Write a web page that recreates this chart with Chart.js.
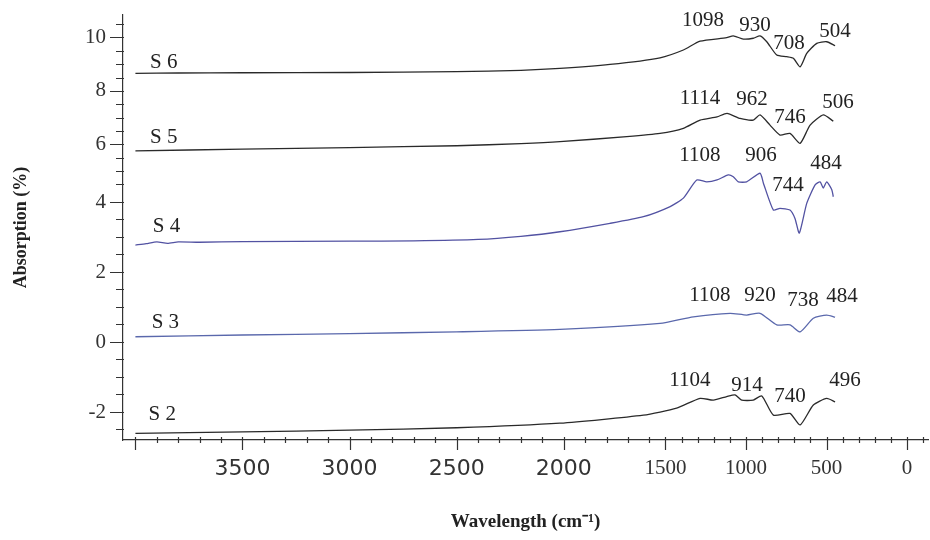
<!DOCTYPE html>
<html>
<head>
<meta charset="utf-8">
<script src="https://cdn.jsdelivr.net/npm/chart.js@4/dist/chart.umd.min.js"></script>
<style>
  html, body { margin: 0; padding: 0; background: #fff; }
  #wrap { width: 930px; height: 540px; }
</style>
</head>
<body>
<div id="wrap"><canvas id="c"></canvas></div>
<script>
// Espectros FTIR (número de onda cm-1 / absorción)
const s6Wn  = [4000, 3800, 3500, 3000, 2500, 2200, 2018, 1784, 1534, 1389, 1285, 1120, 1079, 1017, 955, 913, 871, 809, 747, 706, 664, 623, 561, 499, 447];
const s6Abs = [8.66, 8.67, 8.68, 8.69, 8.72, 8.77, 8.84, 8.99, 9.24, 9.53, 9.86, 9.99, 10.06, 9.94, 9.97, 10.06, 9.84, 9.34, 9.28, 9.22, 8.90, 9.40, 9.78, 9.84, 9.69];

const s5Wn  = [4000, 3500, 3000, 2500, 2200, 2018, 1706, 1534, 1389, 1285, 1180, 1118, 1037, 955, 913, 851, 789, 727, 664, 602, 520, 458];
const s5Abs = [5.76, 5.82, 5.88, 5.95, 6.03, 6.10, 6.29, 6.41, 6.60, 6.91, 7.03, 7.16, 6.97, 6.91, 7.10, 6.72, 6.35, 6.41, 6.04, 6.72, 7.10, 6.87];

const s4Wn  = [4000, 3950, 3900, 3850, 3800, 3700, 3500, 3000, 2700, 2400, 2200, 2018, 1784, 1628, 1471, 1389, 1306, 1244, 1180, 1110, 1079, 1048, 996, 913, 892, 830, 789, 727, 696, 669, 623, 571, 540, 520, 499, 468, 458];
const s4Abs = [2.77, 2.81, 2.86, 2.82, 2.86, 2.85, 2.87, 2.88, 2.89, 2.93, 3.02, 3.15, 3.39, 3.58, 3.87, 4.11, 4.67, 4.60, 4.67, 4.86, 4.79, 4.60, 4.60, 4.92, 4.55, 3.77, 3.82, 3.77, 3.53, 3.11, 3.96, 4.49, 4.60, 4.40, 4.60, 4.36, 4.15];

const s3Wn  = [4000, 3500, 3000, 2500, 2018, 1534, 1327, 1099, 996, 913, 809, 727, 664, 582, 499, 447];
const s3Abs = [0.15, 0.20, 0.24, 0.29, 0.36, 0.53, 0.72, 0.82, 0.77, 0.82, 0.49, 0.49, 0.29, 0.68, 0.77, 0.71];

const s2Wn  = [4000, 3500, 3000, 2500, 2018, 1628, 1431, 1285, 1203, 1120, 1068, 1027, 955, 902, 830, 727, 664, 582, 499, 447];
const s2Abs = [-2.61, -2.57, -2.52, -2.45, -2.32, -2.09, -1.89, -1.61, -1.66, -1.56, -1.51, -1.66, -1.66, -1.54, -2.09, -2.04, -2.37, -1.80, -1.61, -1.71];

// Etiquetas de ejes
const xTickValues = [3500, 3000, 2500, 2000, 1500, 1000, 500, 0];
const yTickValues = [-2, 0, 2, 4, 6, 8, 10];

// Nombres de muestra y picos anotados
const seriesNames = ['S 6', 'S 5', 'S 4', 'S 3', 'S 2'];
const nameX = [3868, 3868, 3855, 3860, 3875];
const nameY = [9.08, 6.24, 3.31, 0.57, -2.06];

const peakText = ['1098', '930', '708', '504', '1114', '962', '746', '506', '1108', '906', '744', '484', '1108', '920', '738', '484', '1104', '914', '740', '496'];
const peakX = [1267, 944, 733, 447, 1286, 963, 727, 429, 1286, 907, 739, 503, 1224, 913, 646, 404, 1348, 994, 727, 385];
const peakY = [10.65, 10.46, 9.79, 10.24, 7.73, 7.69, 7.02, 7.58, 5.57, 5.57, 4.46, 5.27, 1.34, 1.34, 1.20, 1.31, -1.09, -1.23, -1.57, -1.11];

// Escala lineal por tramos (el eje del espectrómetro cambia de escala)
class PiecewiseScale extends Chart.LinearScale {
  static id = 'piecewise';
  static defaults = Chart.LinearScale.defaults;
  toDec(v) {
    const p = this.options.pieces;
    for (let i = 1; i < p.length; i++) {
      if (v <= p[i][0] || i === p.length - 1) {
        const [v0, d0] = p[i - 1], [v1, d1] = p[i];
        return d0 + (v - v0) / (v1 - v0) * (d1 - d0);
      }
    }
  }
  fromDec(d) {
    const p = this.options.pieces;
    for (let i = 1; i < p.length; i++) {
      if (d <= p[i][1] || i === p.length - 1) {
        const [v0, d0] = p[i - 1], [v1, d1] = p[i];
        return v0 + (d - d0) / (d1 - d0) * (v1 - v0);
      }
    }
  }
  getPixelForValue(v) {
    return v === null ? NaN : this.getPixelForDecimal(this.toDec(v));
  }
  getValueForPixel(px) {
    return this.fromDec(this.getDecimalForPixel(px));
  }
}
Chart.register(PiecewiseScale);

const pts = (xs, ys) => xs.map((x, i) => ({ x: x, y: ys[i] }));

// Marcas de los ejes (mayores y menores)
const axisMarks = {
  id: 'axisMarks',
  afterDraw(chart) {
    const { ctx, scales: { x, y } } = chart;
    ctx.save();
    ctx.strokeStyle = '#333';
    ctx.lineWidth = 1.2;
    ctx.beginPath();
    for (let v = 4000; v >= -100; v -= 100) {
      const px = Math.round(x.getPixelForValue(v)) + 0.5;
      const major = v % 500 === 0;
      ctx.moveTo(px, x.top - 3);
      ctx.lineTo(px, x.top + (major ? 10 : 3));
    }
    for (let i = -5; i <= 21; i++) {
      const py = Math.round(y.getPixelForValue(i / 2)) + 0.5;
      const major = i % 4 === 0;
      ctx.moveTo(y.right - (major ? 13 : 7), py);
      ctx.lineTo(y.right + 1, py);
    }
    ctx.stroke();
    ctx.restore();
  }
};

// Textos sobre las curvas
const labels = {
  id: 'labels',
  afterDatasetsDraw(chart) {
    const { ctx, scales: { x, y } } = chart;
    ctx.save();
    ctx.fillStyle = '#222';
    ctx.textAlign = 'center';
    ctx.textBaseline = 'middle';
    ctx.font = '21px "Liberation Serif", "Times New Roman", serif';
    seriesNames.forEach((t, i) => ctx.fillText(t, x.getPixelForValue(nameX[i]), y.getPixelForValue(nameY[i])));
    peakText.forEach((t, i) => ctx.fillText(t, x.getPixelForValue(peakX[i]), y.getPixelForValue(peakY[i])));
    ctx.restore();
  }
};

const black = '#2a2a2a';
const blue = '#5252a2';

new Chart(document.getElementById('c'), {
  type: 'line',
  data: {
    datasets: [
      { label: 'S 6', data: pts(s6Wn, s6Abs), borderColor: black },
      { label: 'S 5', data: pts(s5Wn, s5Abs), borderColor: black },
      { label: 'S 4', data: pts(s4Wn, s4Abs), borderColor: blue },
      { label: 'S 3', data: pts(s3Wn, s3Abs), borderColor: '#5a68ac' },
      { label: 'S 2', data: pts(s2Wn, s2Abs), borderColor: black }
    ]
  },
  options: {
    responsive: true,
    maintainAspectRatio: false,
    animation: false,
    events: [],
    layout: { padding: { left: 0, top: 15, right: 2, bottom: 0 } },
    elements: {
      point: { radius: 0 },
      line: { borderWidth: 1.3, tension: 0.2, fill: false }
    },
    plugins: { legend: { display: false }, tooltip: { enabled: false } },
    scales: {
      x: {
        type: 'piecewise',
        reverse: true,
        min: -130,
        max: 4058,
        pieces: [[-130, 0], [1600, 0.3461], [4058, 1]],
        afterBuildTicks: s => { s.ticks = xTickValues.map(v => ({ value: v })); },
        afterFit: s => { s.height = 100; s.paddingLeft = 0; s.paddingRight = 0; },
        grid: { display: false, drawTicks: false },
        border: { display: true, color: '#333', width: 1.2 },
        ticks: {
          autoSkip: false,
          maxRotation: 0,
          padding: 16,
          color: '#333',
          font: ctx => ctx.tick && ctx.tick.value >= 2000
            ? { family: '"DejaVu Sans", sans-serif', size: 22 }
            : { family: '"Liberation Serif", serif', size: 21 },
          callback: v => String(v)
        },
        title: {
          display: true,
          text: 'Wavelength (cm⁻¹)',
          color: '#222',
          font: { family: '"Liberation Serif", serif', size: 19, weight: 'bold' },
          padding: { top: 0, bottom: 7 }
        }
      },
      y: {
        type: 'piecewise',
        min: -2.8,
        max: 10.84,
        pieces: [[-2.8, 0], [4.5, 0.6012], [10.84, 1]],
        afterBuildTicks: s => { s.ticks = yTickValues.map(v => ({ value: v })); },
        afterFit: s => { s.width = 123; s.paddingTop = 0; s.paddingBottom = 0; },
        grid: { display: false, drawTicks: false },
        border: { display: true, color: '#333', width: 1.2 },
        ticks: {
          padding: 17,
          color: '#333',
          font: { family: '"Liberation Serif", serif', size: 21 },
          callback: v => String(v)
        },
        title: {
          display: true,
          text: 'Absorption (%)',
          color: '#222',
          font: { family: '"Liberation Serif", serif', size: 18, weight: 'bold' },
          padding: { top: 11, bottom: 0 }
        }
      }
    }
  },
  plugins: [axisMarks, labels]
});
</script>
</body>
</html>
